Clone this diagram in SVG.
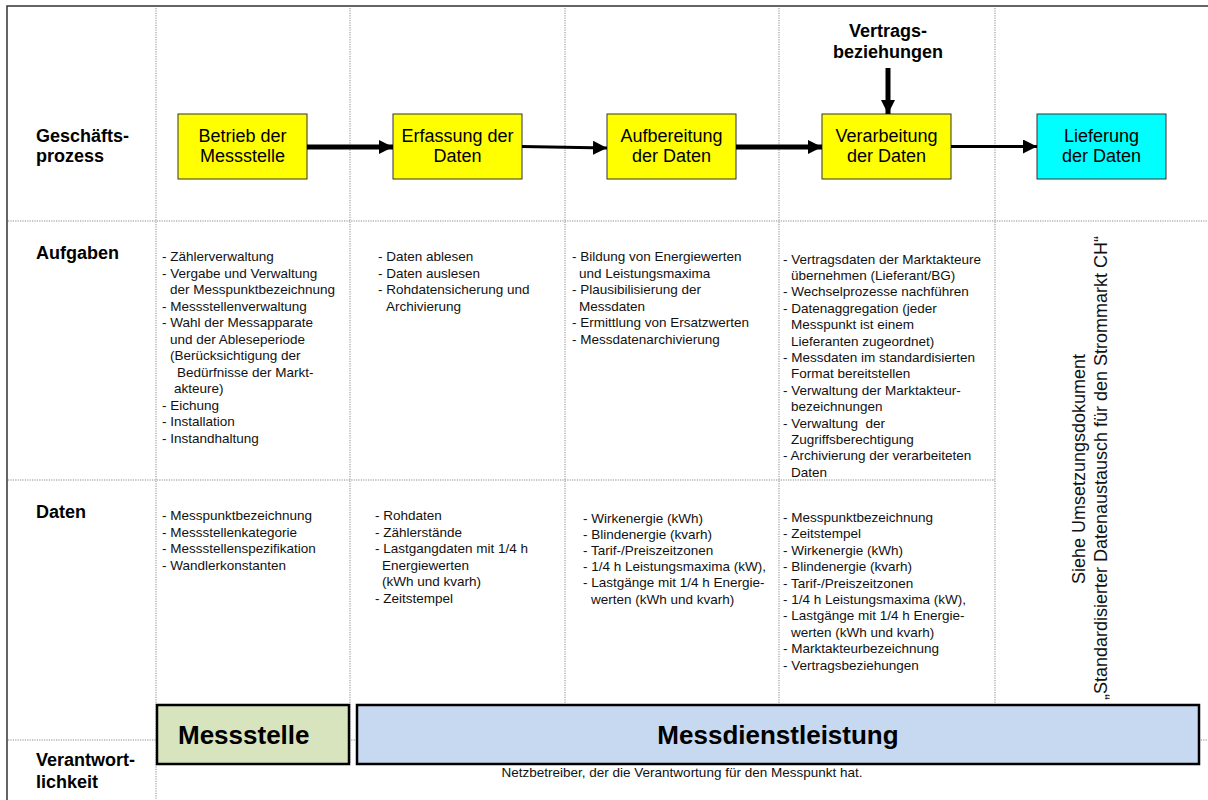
<svg xmlns="http://www.w3.org/2000/svg" width="1208" height="800" viewBox="0 0 1208 800">
<style>
.frame{stroke:#333;stroke-width:1.5;fill:none}
.grid{stroke:#8a8a8a;stroke-width:1;stroke-dasharray:1.2 1.2;fill:none}
.proc{fill:#ffff00;stroke:#333;stroke-width:1}
.proc2{fill:#00ffff;stroke:#333;stroke-width:1}
.lbl{font-family:"Liberation Sans",Arial,sans-serif;font-weight:bold;font-size:18px;fill:#000}
.bt{font-family:"Liberation Sans",Arial,sans-serif;font-size:18px;fill:#000;text-anchor:middle}
.t{font-family:"Liberation Sans",Arial,sans-serif;font-size:13.5px;fill:#111}
.cap{font-family:"Liberation Sans",Arial,sans-serif;font-size:13.5px;fill:#111;text-anchor:middle}
.rot{font-family:"Liberation Sans",Arial,sans-serif;font-size:18px;fill:#111;text-anchor:middle}
.big{font-family:"Liberation Sans",Arial,sans-serif;font-weight:bold;font-size:26px;fill:#000}
.resp{stroke:#000;stroke-width:2.5}
.conn{stroke:#000;fill:none}
</style>
<defs>
<marker id="ah" viewBox="0 0 14 14" markerWidth="14" markerHeight="14" refX="14" refY="7" orient="auto" markerUnits="userSpaceOnUse">
<path d="M0,0 L14,7 L0,14 z" fill="#000"/>
</marker>
</defs>
<rect width="1208" height="800" fill="#fff"/>
<path class="frame" d="M7,800 V6 H1208"/>
<g id="grid">
<path class="grid" d="M156,8 V800"/>
<path class="grid" d="M350,8 V764"/>
<path class="grid" d="M565,8 V705"/>
<path class="grid" d="M779,8 V705"/>
<path class="grid" d="M995,8 V705"/>
<path class="grid" d="M8,221 H1208"/>
<path class="grid" d="M8,480 H995"/>
<path class="grid" d="M8,740 H1208"/>
</g>
<g id="rowlabels">
<text class="lbl" x="36" y="142">Geschäfts-</text>
<text class="lbl" x="36" y="162">prozess</text>
<text class="lbl" x="36" y="259">Aufgaben</text>
<text class="lbl" x="36" y="518">Daten</text>
<text class="lbl" x="36" y="766">Verantwort-</text>
<text class="lbl" x="36" y="788">lichkeit</text>
</g>
<g id="n1"><rect class="proc" x="178" y="114" width="129" height="65"/><text class="bt" x="242.5" y="142">Betrieb der</text><text class="bt" x="242.5" y="162">Messstelle</text></g>
<g id="n2"><rect class="proc" x="393" y="114" width="129" height="65"/><text class="bt" x="457.5" y="142">Erfassung der</text><text class="bt" x="457.5" y="162">Daten</text></g>
<g id="n3"><rect class="proc" x="607" y="114" width="129" height="65"/><text class="bt" x="671.5" y="142">Aufbereitung</text><text class="bt" x="671.5" y="162">der Daten</text></g>
<g id="n4"><rect class="proc" x="822" y="114" width="129" height="65"/><text class="bt" x="886.5" y="142">Verarbeitung</text><text class="bt" x="886.5" y="162">der Daten</text></g>
<g id="n5"><rect class="proc2" x="1037" y="114" width="129" height="65"/><text class="bt" x="1101.5" y="142">Lieferung</text><text class="bt" x="1101.5" y="162">der Daten</text></g>
<g id="n6"><text class="lbl" x="888" y="37" text-anchor="middle">Vertrags-</text><text class="lbl" x="888" y="58" text-anchor="middle">beziehungen</text></g>
<g id="connectors">
<path class="conn" stroke-width="5" d="M307,147 H393" marker-end="url(#ah)"/>
<path class="conn" stroke-width="3" d="M522,146.5 L607,148" marker-end="url(#ah)"/>
<path class="conn" stroke-width="5" d="M736,147 H822" marker-end="url(#ah)"/>
<path class="conn" stroke-width="3" d="M951,146.5 H1037" marker-end="url(#ah)"/>
<path class="conn" stroke-width="5" d="M888,68 V114" marker-end="url(#ah)"/>
</g>
<g id="aufgaben">
<text class="t" x="162" y="261"><tspan x="162">- Zählerverwaltung</tspan><tspan x="162" dy="16.5">- Vergabe und Verwaltung</tspan><tspan x="170" dy="16.5">der Messpunktbezeichnung</tspan><tspan x="162" dy="16.5">- Messstellenverwaltung</tspan><tspan x="162" dy="16.5">- Wahl der Messapparate</tspan><tspan x="170" dy="16.5">und der Ableseperiode</tspan><tspan x="170" dy="16.5">(Berücksichtigung der</tspan><tspan x="177" dy="16.5">Bedürfnisse der Markt-</tspan><tspan x="174" dy="16.5">akteure)</tspan><tspan x="162" dy="16.5">- Eichung</tspan><tspan x="162" dy="16.5">- Installation</tspan><tspan x="162" dy="16.5">- Instandhaltung</tspan></text>
<text class="t" x="378" y="261"><tspan x="378">- Daten ablesen</tspan><tspan x="378" dy="16.5">- Daten auslesen</tspan><tspan x="378" dy="16.5">- Rohdatensicherung und</tspan><tspan x="386" dy="16.5">Archivierung</tspan></text>
<text class="t" x="572" y="261"><tspan x="572">- Bildung von Energiewerten</tspan><tspan x="579" dy="16.5">und Leistungsmaxima</tspan><tspan x="572" dy="16.5">- Plausibilisierung der</tspan><tspan x="579" dy="16.5">Messdaten</tspan><tspan x="572" dy="16.5">- Ermittlung von Ersatzwerten</tspan><tspan x="572" dy="16.5">- Messdatenarchivierung</tspan></text>
<text class="t" x="783" y="263.5"><tspan x="783">- Vertragsdaten der Marktakteure</tspan><tspan x="791" dy="16.4">übernehmen (Lieferant/BG)</tspan><tspan x="783" dy="16.4">- Wechselprozesse nachführen</tspan><tspan x="783" dy="16.4">- Datenaggregation (jeder</tspan><tspan x="791" dy="16.4">Messpunkt ist einem</tspan><tspan x="791" dy="16.4">Lieferanten zugeordnet)</tspan><tspan x="783" dy="16.4">- Messdaten im standardisierten</tspan><tspan x="791" dy="16.4">Format bereitstellen</tspan><tspan x="783" dy="16.4">- Verwaltung der Marktakteur-</tspan><tspan x="791" dy="16.4">bezeichnungen</tspan><tspan x="783" dy="16.4" xml:space="preserve">- Verwaltung  der</tspan><tspan x="791" dy="16.4">Zugriffsberechtigung</tspan><tspan x="783" dy="16.4">- Archivierung der verarbeiteten</tspan><tspan x="791" dy="16.4">Daten</tspan></text>
</g>
<g id="daten">
<text class="t" x="162" y="520"><tspan x="162">- Messpunktbezeichnung</tspan><tspan x="162" dy="16.7">- Messstellenkategorie</tspan><tspan x="162" dy="16.7">- Messstellenspezifikation</tspan><tspan x="162" dy="16.7">- Wandlerkonstanten</tspan></text>
<text class="t" x="375" y="520"><tspan x="375">- Rohdaten</tspan><tspan x="375" dy="16.6">- Zählerstände</tspan><tspan x="375" dy="16.6">- Lastgangdaten mit 1/4 h</tspan><tspan x="382" dy="16.6">Energiewerten</tspan><tspan x="382" dy="16.6">(kWh und kvarh)</tspan><tspan x="375" dy="16.6">- Zeitstempel</tspan></text>
<text class="t" x="583" y="522.5"><tspan x="583">- Wirkenergie (kWh)</tspan><tspan x="583" dy="16.2">- Blindenergie (kvarh)</tspan><tspan x="583" dy="16.2">- Tarif-/Preiszeitzonen</tspan><tspan x="583" dy="16.2">- 1/4 h Leistungsmaxima (kW),</tspan><tspan x="583" dy="16.2">- Lastgänge mit 1/4 h Energie-</tspan><tspan x="591" dy="16.2">werten (kWh und kvarh)</tspan></text>
<text class="t" x="783" y="522"><tspan x="783">- Messpunktbezeichnung</tspan><tspan x="783" dy="16.4">- Zeitstempel</tspan><tspan x="783" dy="16.4">- Wirkenergie (kWh)</tspan><tspan x="783" dy="16.4">- Blindenergie (kvarh)</tspan><tspan x="783" dy="16.4">- Tarif-/Preiszeitzonen</tspan><tspan x="783" dy="16.4">- 1/4 h Leistungsmaxima (kW),</tspan><tspan x="783" dy="16.4">- Lastgänge mit 1/4 h Energie-</tspan><tspan x="791" dy="16.4">werten (kWh und kvarh)</tspan><tspan x="783" dy="16.4">- Marktakteurbezeichnung</tspan><tspan x="783" dy="16.4">- Vertragsbeziehungen</tspan></text>
</g>
<g id="note">
<text class="rot" transform="translate(1085,469) rotate(-90)">Siehe Umsetzungsdokument</text>
<text class="rot" transform="translate(1107,468) rotate(-90)">„Standardisierter Datenaustausch für den Strommarkt CH“</text>
</g>
<g id="r1"><rect class="resp" x="157" y="705" width="192" height="59" fill="#d7e4bd"/><text class="big" x="178" y="744">Messstelle</text></g>
<g id="r2"><rect class="resp" x="357" y="705" width="842" height="59" fill="#c6d9f1"/><text class="big" x="778" y="744" text-anchor="middle">Messdienstleistung</text></g>
<text class="cap" x="682" y="777">Netzbetreiber, der die Verantwortung für den Messpunkt hat.</text>
</svg>
